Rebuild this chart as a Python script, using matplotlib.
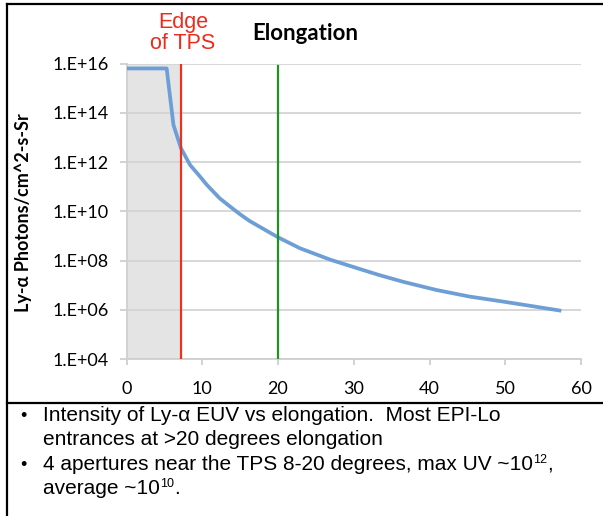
import matplotlib
matplotlib.use("Agg")
import matplotlib.pyplot as plt
from matplotlib.lines import Line2D

# ---- data ----
elongation = [0, 5.3, 6.2, 7.2, 8.4, 9.7, 10.6, 12.3, 13.7, 15.0, 16.3, 20.0,
              22.9, 26.9, 30.8, 33.4, 36.5, 40.9, 45.3, 49.7, 54.1, 57.4]
intensity = [6.3e15, 6.3e15, 3.2e13, 3.6e12, 7.6e11, 2.6e11, 1.2e11, 3.4e10,
             1.55e10, 7.6e9, 4.0e9, 8.9e8, 3.2e8, 1.1e8, 4.6e7, 2.6e7, 1.4e7,
             6.5e6, 3.5e6, 2.2e6, 1.35e6, 9.3e5]
tps_edge = 7.2
elong_line = 20
y_ticks = [1e4, 1e6, 1e8, 1e10, 1e12, 1e14, 1e16]
y_ticklabels = ["1.E+04", "1.E+06", "1.E+08", "1.E+10", "1.E+12", "1.E+14", "1.E+16"]
x_ticks = [0, 10, 20, 30, 40, 50, 60]
# (bullet, text, superscript, text after superscript)
bullet_lines = [
    ("\u2022", "Intensity of Ly-\u03b1 EUV vs elongation.  Most EPI-Lo", "", ""),
    ("", "entrances at >20 degrees elongation", "", ""),
    ("\u2022", "4 apertures near the TPS 8-20 degrees, max UV ~10", "12", ","),
    ("", "average ~10", "10", "."),
]

W, H = 603, 516
fig = plt.figure(figsize=(W / 100, H / 100), dpi=100)

def fx(px):
    return px / W

def fy(py):
    return 1 - py / H

ax_l, ax_r, ax_t, ax_b = 126.5, 581, 63.5, 359.3
ax = fig.add_axes([fx(ax_l), fy(ax_b), fx(ax_r - ax_l), (ax_b - ax_t) / H])
ax.set_yscale("log")
ax.set_xlim(0, 60)
ax.set_ylim(1e4, 1e16)

ax.axvspan(0, tps_edge, color="#e4e4e4", zorder=0, lw=0)
ax.set_yticks(y_ticks)
ax.set_yticklabels(y_ticklabels)
ax.yaxis.set_minor_locator(matplotlib.ticker.NullLocator())
ax.set_xticks(x_ticks)
ax.grid(axis="y", color="#d4d4d4", lw=1.3, zorder=1)
ax.set_axisbelow(True)

for s in ["top", "right"]:
    ax.spines[s].set_visible(False)
for s in ["left", "bottom"]:
    ax.spines[s].set_color("#cfcfcf")
    ax.spines[s].set_linewidth(1.3)

ax.tick_params(axis="y", length=5, width=1.3, color="#cfcfcf", pad=8,
               labelsize=13, labelfontfamily="Lato")
ax.tick_params(axis="x", length=4.5, width=1.3, color="#cfcfcf", pad=11,
               labelsize=13, labelfontfamily="Lato")

ax.plot(elongation, intensity, color="#6d9fd6", lw=2.7, zorder=3,
        solid_capstyle="butt", solid_joinstyle="round")
ax.plot([tps_edge, tps_edge], [1e4, 1e16], color="#f0301c", lw=1.6, zorder=4)
ax.plot([elong_line, elong_line], [1e4, 8e15], color="#1f9322", lw=1.6, zorder=4)

# y label
fig.text(fx(23), fy(213), "Ly-\u03b1 Photons/cm^2-s-Sr", rotation=90,
         ha="center", va="center", fontsize=13, fontweight="bold",
         family=["Lato", "DejaVu Sans"])

# annotations
fig.text(fx(183), fy(33), "Edge\nof TPS", color="#ee2a1a", ha="center",
         va="center", fontsize=15.5, family="Liberation Sans", linespacing=1.0)
fig.text(fx(305), fy(33), "Elongation", ha="center", va="center",
         fontsize=16, fontweight="bold", family="Lato")

# frame lines
fig.add_artist(Line2D([fx(7.3), fx(7.3)], [fy(4.3), fy(H + 2)],
                      color="black", lw=1.6, transform=fig.transFigure))
fig.add_artist(Line2D([fx(7.3), fx(W + 2)], [fy(4.3), fy(4.3)],
                      color="black", lw=1.6, transform=fig.transFigure))
fig.add_artist(Line2D([fx(7.3), fx(W + 2)], [fy(403), fy(403)],
                      color="black", lw=1.6, transform=fig.transFigure))

# bullets
renderer = fig.canvas.get_renderer()
line_y = [421, 445, 470, 494]
fs = 15
for yy, (b, txt, sup, after) in zip(line_y, bullet_lines):
    if b:
        fig.text(fx(20), fy(yy), b, ha="left", va="baseline",
                 fontsize=13, family="Liberation Sans")
    t = fig.text(fx(43), fy(yy), txt, ha="left", va="baseline", fontsize=fs,
                 family="Liberation Sans")
    if sup:
        bb = t.get_window_extent(renderer)
        x1 = bb.x1
        s = fig.text(x1 / W, (H - yy + 7) / H, sup, ha="left",
                     va="baseline", fontsize=fs * 0.6, family="Liberation Sans")
        bb2 = s.get_window_extent(renderer)
        fig.text(bb2.x1 / W, fy(yy), after, ha="left", va="baseline",
                 fontsize=fs, family="Liberation Sans")

fig.savefig("out.png", dpi=100)
